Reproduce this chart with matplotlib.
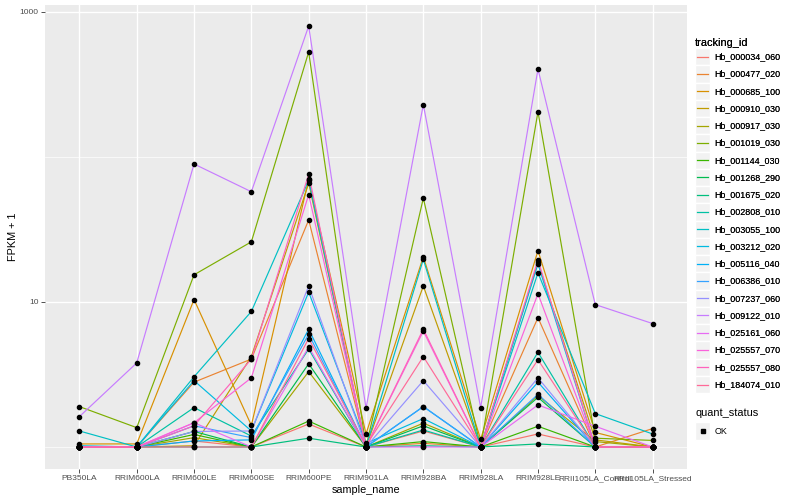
import numpy as np
import matplotlib
matplotlib.use("Agg")
import matplotlib.pyplot as plt
from matplotlib.lines import Line2D
from matplotlib.patches import Rectangle
from matplotlib.legend_handler import HandlerBase

plt.rcParams['font.family'] = ['Liberation Sans', 'DejaVu Sans']

samples = ["PB350LA", "RRIM600LA", "RRIM600LE", "RRIM600SE", "RRIM600PE", "RRIM901LA",
           "RRIM928BA", "RRIM928LA", "RRIM928LE", "RRII105LA_Control", "RRII105LA_Stressed"]

tracking_ids = ["Hb_000034_060", "Hb_000477_020", "Hb_000685_100", "Hb_000910_030",
                "Hb_000917_030", "Hb_001019_030", "Hb_001144_030", "Hb_001268_290",
                "Hb_001675_020", "Hb_002808_010", "Hb_003055_100", "Hb_003212_020",
                "Hb_005116_040", "Hb_006386_010", "Hb_007237_060", "Hb_009122_010",
                "Hb_025161_060", "Hb_025557_070", "Hb_025557_080", "Hb_184074_010"]

# FPKM + 1 per sample, in tracking_id order
pb350la = [1.0, 1.0, 1.05, 1.0, 1.0, 1.9, 1.0, 1.0, 1.0, 1.0, 1.29, 1.02, 1.0, 1.0, 1.0, 1.62, 1.0, 1.0, 1.0, 1.0]
rrim600la = [1.0, 1.0, 1.05, 1.0, 1.0, 1.36, 1.0, 1.0, 1.0, 1.0, 1.0, 1.0, 1.0, 1.0, 1.0, 3.8, 1.0, 1.0, 1.0, 1.0]
rrim600le = [1.1, 2.8, 10.4, 1.02, 1.16, 15.4, 1.22, 1.28, 1.0, 1.87, 3.05, 2.87, 1.1, 1.4, 1.28, 89.5, 1.47, 1.47, 1.4, 1.0]
rrim600se = [1.0, 4.04, 1.41, 4.2, 1.0, 26, 1.0, 1.0, 1.0, 1.19, 8.6, 1.29, 1.12, 1.16, 1.29, 57.6, 1.0, 3.0, 4.04, 1.0]
rrim600pe = [1.44, 36.8, 70, 66, 3.31, 530, 1.51, 3.75, 1.15, 4.74, 69, 11.7, 6.5, 6.0, 12.9, 800, 4.9, 55, 76, 5.6]
rrim901la = [1.0, 1.0, 1.23, 1.0, 1.0, 1.0, 1.0, 1.0, 1.0, 1.0, 1.0, 1.06, 1.0, 1.0, 1.0, 1.85, 1.0, 1.0, 1.0, 1.02]
rrim928ba = [1.29, 1.06, 20.5, 12.9, 1.46, 52, 1.09, 1.4, 1.02, 1.31, 19.7, 1.57, 1.9, 1.9, 2.87, 230, 1.0, 6.3, 6.5, 4.2]
rrim928la = [1.0, 1.0, 1.13, 1.0, 1.0, 1.0, 1.0, 1.0, 1.0, 1.0, 1.0, 1.0, 1.0, 1.0, 1.0, 1.87, 1.0, 1.0, 1.0, 1.0]
rrim928le = [1.23, 7.8, 22.6, 18.8, 2.26, 205, 1.39, 2.2, 1.05, 4.5, 15.9, 18.3, 2.8, 2.31, 3.0, 404, 1.95, 11.4, 19.5, 4.0]
rrii105la_control = [1.0, 1.0, 1.26, 1.12, 1.09, 1.15, 1.0, 1.0, 1.0, 1.0, 1.7, 1.0, 1.0, 1.0, 1.0, 9.6, 1.39, 1.0, 1.0, 1.0]
rrii105la_stressed = [1.0, 1.34, 1.0, 1.0, 1.0, 1.11, 1.0, 1.0, 1.0, 1.0, 1.23, 1.0, 1.0, 1.0, 1.0, 7.1, 1.0, 1.0, 1.0, 1.0]

values = np.array([pb350la, rrim600la, rrim600le, rrim600se, rrim600pe, rrim901la,
                   rrim928ba, rrim928la, rrim928le, rrii105la_control, rrii105la_stressed]).T


def hcl_hex(h, c=100.0, l=65.0):
    # polar Luv -> sRGB, like ggplot's hue_pal
    xn, yn, zn = 95.047, 100.0, 108.883
    un = 4 * xn / (xn + 15 * yn + 3 * zn)
    vn = 9 * yn / (xn + 15 * yn + 3 * zn)
    u = c * np.cos(np.radians(h))
    v = c * np.sin(np.radians(h))
    Y = yn * ((l + 16) / 116) ** 3
    up = u / (13 * l) + un
    vp = v / (13 * l) + vn
    X = Y * 9 * up / (4 * vp)
    Z = Y * (12 - 3 * up - 20 * vp) / (4 * vp)
    X, Y, Z = X / 100, Y / 100, Z / 100
    rgb = [3.2404542 * X - 1.5371385 * Y - 0.4985314 * Z,
           -0.9692660 * X + 1.8760108 * Y + 0.0415560 * Z,
           0.0556434 * X - 0.2040259 * Y + 1.0572252 * Z]
    out = []
    for ch in rgb:
        ch = 12.92 * ch if ch <= 0.0031308 else 1.055 * ch ** (1 / 2.4) - 0.055
        out.append(min(max(ch, 0), 1))
    return tuple(out)


n = len(tracking_ids)
colors = [hcl_hex(15 + 360.0 * i / n) for i in range(n)]


class KeyHandler(HandlerBase):
    # grey key box with the line or point centred in it, ggplot style
    def create_artists(self, legend, orig_handle, xdescent, ydescent, width, height, fontsize, trans):
        bg = Rectangle((-xdescent, -ydescent), width, height, facecolor='#F2F2F2',
                       edgecolor='white', lw=1.0, transform=trans)
        yc = height / 2 - ydescent
        if orig_handle.get_marker() not in (None, 'None', '', ' '):
            mk = Line2D([width / 2 - xdescent], [yc], marker=orig_handle.get_marker(), ls='none',
                        color=orig_handle.get_color(), ms=orig_handle.get_markersize(), transform=trans)
            return [bg, mk]
        ln = Line2D([-xdescent + 1.5, width - xdescent - 1.5], [yc, yc], color=orig_handle.get_color(),
                    lw=orig_handle.get_linewidth(), transform=trans)
        return [bg, ln]


fig = plt.figure(figsize=(8, 5), dpi=100)
ax = fig.add_axes([45 / 800, 1 - 469 / 500, 642 / 800, 464 / 500])
ax.set_facecolor('#EBEBEB')

x = np.arange(len(samples))
for i in range(n):
    ax.plot(x, values[i], color=colors[i], lw=0.85, zorder=3)
for i in range(n):
    ax.plot(x, values[i], 'o', color='black', ms=3.0, zorder=4, ls='none')

ax.set_yscale('log')
ax.set_ylim(10 ** (-22 / 145), 10 ** (442 / 145))
ax.set_xlim(-0.6, len(samples) - 0.4)
ax.set_yticks([10, 1000])
ax.set_yticklabels(["10", "1000"])
ax.set_yticks([1, 100], minor=True)
ax.yaxis.set_minor_formatter(matplotlib.ticker.NullFormatter())
ax.set_xticks(x)
ax.set_xticklabels(samples)
ax.tick_params(axis='both', which='major', labelsize=6, colors='#333333', length=3, width=0.6,
               labelcolor='#4D4D4D', pad=1.5)
ax.tick_params(axis='y', which='minor', length=0)
ax.grid(True, which='major', color='white', lw=1.0)
ax.grid(True, which='minor', axis='y', color='white', lw=0.5)
ax.set_axisbelow(True)
for s in ax.spines.values():
    s.set_visible(False)

ax.set_xlabel("sample_name", fontsize=7.8, labelpad=2)
ax.set_ylabel("FPKM + 1", fontsize=7.8, labelpad=1)

handles = [Line2D([], [], color=colors[i], lw=0.9) for i in range(n)]
leg1 = fig.legend(handles, tracking_ids, loc='upper left', bbox_to_anchor=(695 / 800, 1 - 38 / 500),
                  frameon=False, fontsize=6.4, title="tracking_id", title_fontsize=7.9,
                  handlelength=1.72, handleheight=2.61, labelspacing=0.0, handletextpad=0.46,
                  borderpad=0, borderaxespad=0, alignment='left',
                  handler_map={Line2D: KeyHandler()})
fig.add_artist(leg1)

pt = Line2D([], [], marker='s', color='black', ls='none', ms=3)
leg2 = fig.legend([pt], ["OK"], loc='upper left', bbox_to_anchor=(695 / 800, 1 - 408 / 500),
                  frameon=False, fontsize=6.4, title="quant_status", title_fontsize=7.9,
                  handlelength=1.72, handleheight=2.61, handletextpad=0.46,
                  borderpad=0, borderaxespad=0, alignment='left',
                  handler_map={Line2D: KeyHandler()})

fig.savefig("out.png", dpi=100)
